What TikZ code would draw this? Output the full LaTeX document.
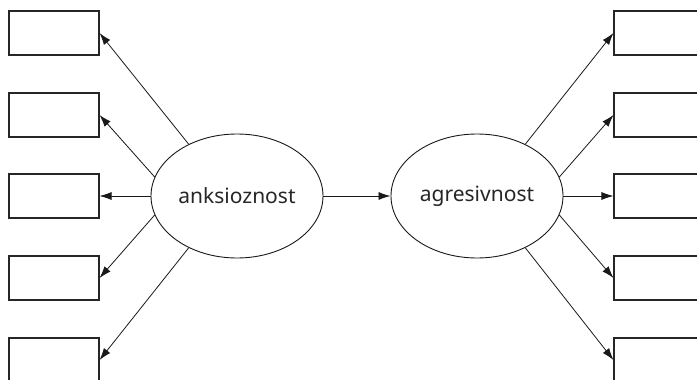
\documentclass[tikz,border=0pt]{standalone}
\usepackage{fontspec}
\setmainfont{Noto Sans}
\usetikzlibrary{arrows.meta,shapes.geometric}
\begin{document}
\begin{tikzpicture}[x=1pt,y=-1pt,
  indicator/.style={draw=black!85,line width=1.1pt,minimum width=90pt,minimum height=44pt,inner sep=0pt},
  latent/.style={draw=black!90,ellipse,line width=0.9pt,minimum width=172pt,minimum height=124pt,inner sep=0pt,font=\fontsize{21}{24}\selectfont,text=black!85},
  loading/.style={line width=0.8pt,draw=black!90,-{Latex[length=12pt,width=8pt]}}]
\useasboundingbox (0,0) rectangle (697,380);
\clip (0,0) rectangle (697,380);
% latent variables
\node[latent] (anx) at (237,196) {anksioznost};
\node[latent] (agr) at (477,196) {agresivnost};
% indicators
\foreach \i/\y in {1/33,2/115,3/196,4/278,5/360}{
  \node[indicator] (L\i) at (54,\y) {};
  \node[indicator] (R\i) at (659,\y) {};
}
% loadings
\draw[loading] (anx.133) -- (L1.east);
\draw[loading] (anx.167) -- (L2.east);
\draw[loading] (anx.west) -- (L3.east);
\draw[loading] (anx.193) -- (L4.east);
\draw[loading] (anx.227) -- (L5.east);
\draw[loading] (agr.47) -- (R1.west);
\draw[loading] (agr.13) -- (R2.west);
\draw[loading] (agr.east) -- (R3.west);
\draw[loading] (agr.-13) -- (R4.west);
\draw[loading] (agr.-47) -- (R5.west);
% structural path
\draw[loading] (anx.east) -- (agr.west);
\end{tikzpicture}
\end{document}
